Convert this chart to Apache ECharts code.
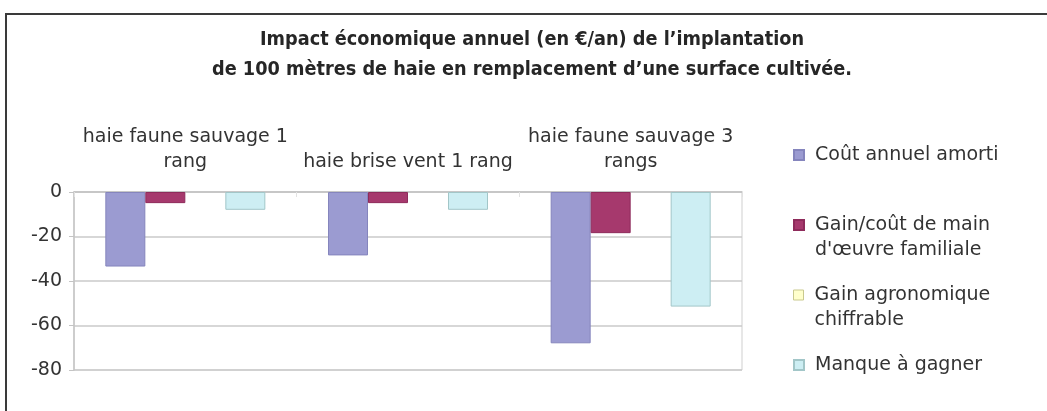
<!DOCTYPE html>
<html>
<head>
<meta charset="utf-8">
<script src="https://cdn.jsdelivr.net/npm/echarts@6/dist/echarts.min.js"></script>
<style>
  html, body { margin: 0; padding: 0; background: #fff; }
  #chart { width: 1047px; height: 411px; }
</style>
</head>
<body>
<div id="chart"></div>
<script>
// categories (haies) and values in euros per year
var categories = ['haie faune sauvage 1\nrang', 'haie brise vent 1 rang', 'haie faune sauvage 3\nrangs'];
var coutAnnuel = [-33.5, -28.5, -68];
var gainMainOeuvre = [-5, -5, -18.5];
var gainAgronomique = [0, 0, 0];
var manqueAGagner = [-8, -8, -51.5];
var yTicks = [0, -20, -40, -60, -80];

var seriesNames = [
	'Coût annuel amorti',
	'Gain/coût de main\nd\'œuvre familiale',
	'Gain agronomique\nchiffrable',
	'Manque à gagner'
];

var font = 'DejaVu Sans';
var myChart = echarts.init(document.getElementById('chart'));

// one legend per item; a blank first line keeps the square on the first text line
var legendTops = [142.5, 187.5, 257.5, 352.5];
var legends = seriesNames.map(function(name, i) {
	var twoLines = name.indexOf('\n') >= 0;
	var lg = {
		data : [ name ],
		left : 793,
		top : legendTops[i],
		padding : 0,
		orient : 'vertical',
		icon : 'rect',
		itemWidth : 10,
		itemHeight : 10,
		selectedMode : false,
		formatter : function(n) {
			var s = ' ' + n.replace('\n', '\n ');
			return twoLines ? '\n' + s : s;
		},
		textStyle : {
			fontFamily : font,
			fontSize : 19,
			lineHeight : 25,
			color : '#333'
		}
	};
	if (i == 2) {
		lg.itemStyle = {
			borderColor : '#c9c98f',
			borderWidth : 1
		};
	}
	return lg;
});

option = {
	backgroundColor : '#fff',
	animation : false,
	title : {
		text : 'Impact économique annuel (en €/an) de l’implantation\nde 100 mètres de haie en remplacement d’une surface cultivée.',
		left : 532,
		top : 25,
		padding : 0,
		textAlign : 'center',
		textStyle : {
			fontFamily : "'Liberation Sans Narrow', 'DejaVu Sans Condensed', 'Roboto Condensed', 'Liberation Sans', sans-serif",
			fontWeight : 'bold',
			fontSize : 19.7,
			lineHeight : 30,
			color : '#262626'
		}
	},
	legend : legends,
	grid : {
		left : 74,
		right : 305,
		top : 192,
		bottom : 41,
		show : true,
		borderColor : '#cfcfcf',
		borderWidth : 1
	},
	xAxis : {
		type : 'category',
		position : 'top',
		data : categories,
		axisLine : {
			lineStyle : {
				color : '#c4c4c4',
				width : 1.5
			}
		},
		axisTick : {
			show : true,
			inside : true,
			length : 5,
			lineStyle : {
				color : '#e2e2e2'
			}
		},
		axisLabel : {
			fontFamily : font,
			fontSize : 19,
			lineHeight : 25,
			color : '#333',
			margin : 17,
			interval : 0
		}
	},
	yAxis : {
		type : 'value',
		min : -80,
		max : 0,
		interval : 20,
		axisLine : {
			show : true,
			lineStyle : {
				color : '#c4c4c4',
				width : 1.5
			}
		},
		axisTick : {
			show : true,
			length : 5,
			lineStyle : {
				color : '#c4c4c4'
			}
		},
		axisLabel : {
			fontFamily : font,
			fontSize : 19,
			color : '#333',
			margin : 12,
			formatter : function(v) {
				return yTicks.indexOf(v) >= 0 ? String(v) : '';
			}
		},
		splitLine : {
			lineStyle : {
				color : '#cacaca',
				width : 1.5
			}
		}
	},
	series : [ {
		name : seriesNames[0],
		type : 'bar',
		barWidth : 40,
		barGap : '0%',
		data : coutAnnuel,
		itemStyle : {
			color : '#9b9bd1',
			borderColor : '#8585bd',
			borderWidth : 1
		}
	}, {
		name : seriesNames[1],
		type : 'bar',
		barWidth : 40,
		barGap : '0%',
		data : gainMainOeuvre,
		itemStyle : {
			color : '#a6396d',
			borderColor : '#8e2b5b',
			borderWidth : 1
		}
	}, {
		name : seriesNames[2],
		type : 'bar',
		barWidth : 40,
		barGap : '0%',
		data : gainAgronomique,
		itemStyle : {
			color : '#ffffcc',
			borderWidth : 0
		}
	}, {
		name : seriesNames[3],
		type : 'bar',
		barWidth : 40,
		barGap : '0%',
		data : manqueAGagner,
		itemStyle : {
			color : '#cdeef3',
			borderColor : '#a2c6c8',
			borderWidth : 1
		}
	} ],
	graphic : [ {
		// outer frame of the figure
		type : 'rect',
		silent : true,
		z : 100,
		shape : {
			x : 6,
			y : 14,
			width : 1060,
			height : 430
		},
		style : {
			fill : 'none',
			stroke : '#3a3a3a',
			lineWidth : 2
		}
	} ]
};
myChart.setOption(option);
</script>
</body>
</html>
